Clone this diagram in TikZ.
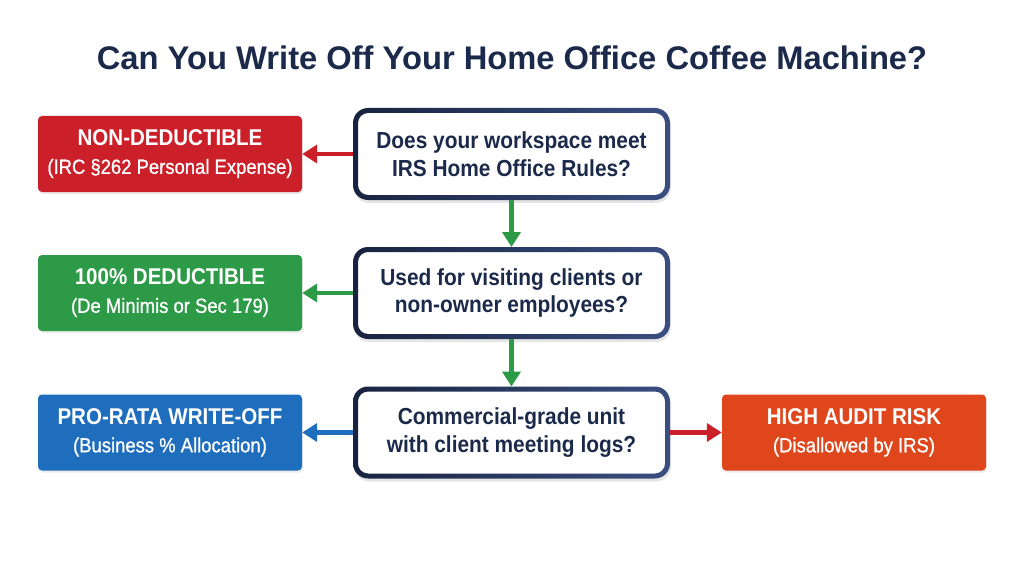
\documentclass[tikz,border=0pt]{standalone}
\usepackage{fontspec}
\setmainfont{Liberation Sans}
\newfontfamily\boxfont[FakeStretch=0.9]{Liberation Sans}
\newfontfamily\boxmed[FakeStretch=0.9,FakeBold=0.9]{Liberation Sans}
\usetikzlibrary{arrows.meta,shadows}
\definecolor{navy}{HTML}{1B2A4A}
\definecolor{navyD}{HTML}{18233F}
\definecolor{navyL}{HTML}{3A4E80}
\definecolor{cred}{HTML}{CB2029}
\definecolor{cgreen}{HTML}{2C9A46}
\definecolor{cblue}{HTML}{1F6DBD}
\definecolor{corange}{HTML}{E0461B}
\tikzset{
  outbox/.style={rounded corners=4pt, minimum width=264pt, minimum height=76pt, text=white, align=center, inner sep=0pt,
    font=\boxfont\fontsize{20}{28}\selectfont, drop shadow={opacity=0.15, shadow xshift=1pt, shadow yshift=-2pt}},
  qbox/.style={fill=white, rounded corners=15pt, minimum width=317pt, minimum height=92pt, outer sep=0pt,
    text=navy, align=center, inner sep=0pt, font=\boxfont\bfseries\fontsize{23.2}{27.5}\selectfont,
    drop shadow={opacity=0.2, shadow xshift=1pt, shadow yshift=-3pt}},
  qframe/.style={even odd rule, left color=navyD, right color=navyL},
  conn/.style={line width=4.5pt, -{Triangle[length=15pt,width=18pt]}},
}
\newcommand{\boxhd}[1]{{\bfseries\fontsize{22.8}{28}\selectfont #1}}
\newcommand{\boxsub}[1]{{\boxmed\fontsize{20.5}{28}\selectfont #1}}
\newcommand{\qborder}[1]{%
  \shade[qframe, rounded corners=15pt] ([shift={(-158.5,-46)}]#1.center) rectangle ([shift={(158.5,46)}]#1.center)
    [rounded corners=10pt] ([shift={(-153.5,-41)}]#1.center) rectangle ([shift={(153.5,41)}]#1.center);}
\begin{document}
\begin{tikzpicture}[x=1pt,y=-1pt]
\useasboundingbox[fill=white] (0,0) rectangle (1024,572);
\node[text=navy, font=\bfseries\fontsize{32.7}{38}\selectfont] (title) at (512,58) {Can You Write Off Your Home Office Coffee Machine?};

\node[qbox] (q1) at (511.5,154) {Does your workspace meet\\IRS Home Office Rules?};
\node[qbox] (q2) at (511.5,293) {Used for visiting clients or\\non-owner employees?};
\node[qbox] (q3) at (511.5,432.5) {Commercial-grade unit\\with client meeting logs?};
\qborder{q1}
\qborder{q2}
\qborder{q3}

\node[outbox, fill=cred] (nd) at (170,154) {\boxhd{NON-DEDUCTIBLE}\\\boxsub{(IRC §262 Personal Expense)}};
\node[outbox, fill=cgreen] (fd) at (170,293) {\boxhd{100\% DEDUCTIBLE}\\\boxsub{(De Minimis or Sec 179)}};
\node[outbox, fill=cblue] (pr) at (170,432.5) {\boxhd{PRO-RATA WRITE-OFF}\\\boxsub{(Business \% Allocation)}};
\node[outbox, fill=corange] (ha) at (854,432.5) {\boxhd{HIGH AUDIT RISK}\\\boxsub{(Disallowed by IRS)}};

\draw[conn, draw=cred] (q1.west) -- (nd.east);
\draw[conn, draw=cgreen] (q1.south) -- (q2.north);
\draw[conn, draw=cgreen] (q2.west) -- (fd.east);
\draw[conn, draw=cgreen] (q2.south) -- (q3.north);
\draw[conn, draw=cblue] (q3.west) -- (pr.east);
\draw[conn, draw=cred] (q3.east) -- (ha.west);
\end{tikzpicture}
\end{document}
